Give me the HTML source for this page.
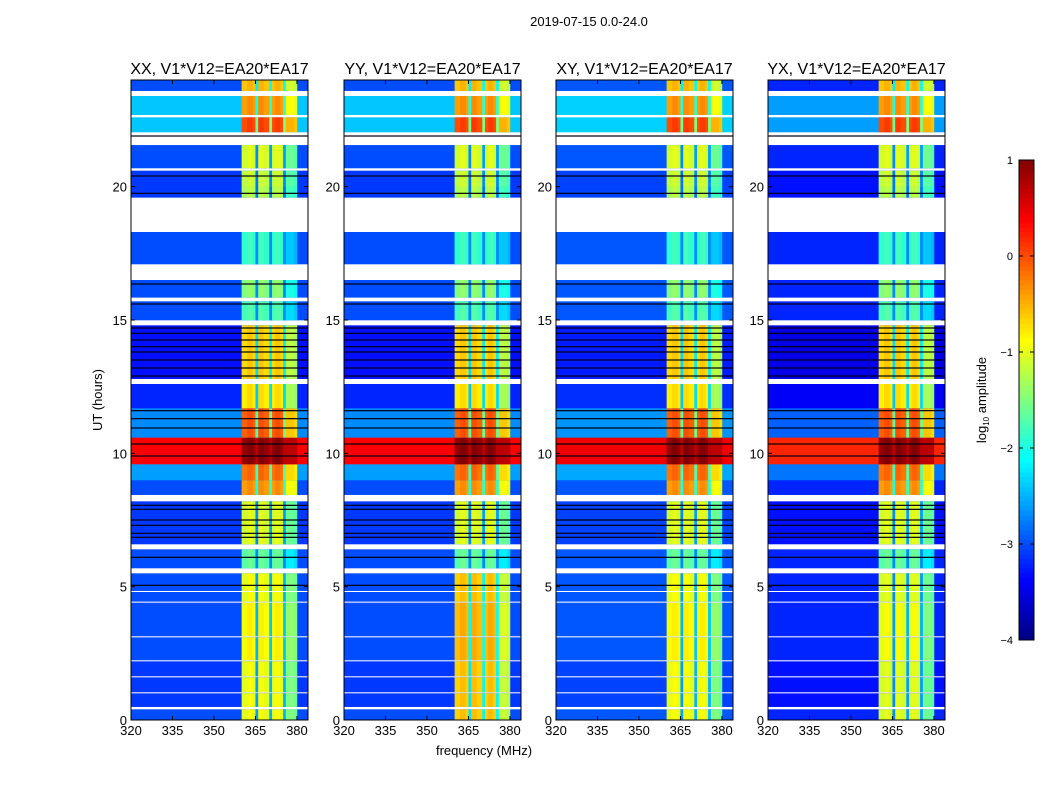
<!DOCTYPE html>
<html><head><meta charset="utf-8"><style>
html,body{margin:0;padding:0;background:#fff;}
svg{display:block;font-family:"Liberation Sans",sans-serif;}
</style></head><body>
<svg id="fig" width="1050" height="800">
<defs>
<linearGradient id="jet" x1="0" y1="1" x2="0" y2="0">
<stop offset="0" stop-color="#00007f"/><stop offset="0.11" stop-color="#0000ff"/><stop offset="0.125" stop-color="#0000ff"/>
<stop offset="0.34" stop-color="#0080ff"/><stop offset="0.375" stop-color="#00ffff" stop-opacity="1"/>
<stop offset="0.35" stop-color="#00e0ff"/><stop offset="0.5" stop-color="#7dff7a"/>
<stop offset="0.64" stop-color="#ffff00"/><stop offset="0.89" stop-color="#ff1a00"/><stop offset="1" stop-color="#7f0000"/>
</linearGradient>
</defs>
<text x="589" y="26" font-size="13" text-anchor="middle">2019-07-15 0.0-24.0</text>
<text x="484" y="755" font-size="13" text-anchor="middle">frequency (MHz)</text>
<text x="102" y="400" font-size="13" text-anchor="middle" transform="rotate(-90 102 400)">UT (hours)</text>
<g id="panels"></g>
<g id="cbar"></g>
</svg>
<script>
// ---- data ----
const panelTitles = ["XX, V1*V12=EA20*EA17","YY, V1*V12=EA20*EA17","XY, V1*V12=EA20*EA17","YX, V1*V12=EA20*EA17"];
const panelLeft = [131,344,556,768];
const xTicks = [320,335,350,365,380];
const yTicks = [0,5,10,15,20];
// time segments: start hour, end hour, background log amplitude, band log amplitude (null = flagged)
const segStart = [0,0.4,0.5,1.0,1.05,1.6,1.65,2.2,2.25,3.1,3.15,4.4,4.45,4.8,4.85,5.5,5.7,6.4,6.6,8.2,8.45,9.0,9.6,10.6,11.7,12.6,12.8,14.8,15.0,15.7,15.85,16.5,16.6,17.1,18.3,19.6,20.0,20.6,20.7,21.56,22.05,22.6,22.7,23.4,23.6];
const segEnd   = [0.4,0.5,1.0,1.05,1.6,1.65,2.2,2.25,3.1,3.15,4.4,4.45,4.8,4.85,5.5,5.7,6.4,6.6,8.2,8.45,9.0,9.6,10.6,11.7,12.6,12.8,14.8,15.0,15.7,15.85,16.5,16.6,17.1,18.3,19.6,20.0,20.6,20.7,21.56,22.05,22.6,22.7,23.4,23.6,24];
const segBg    = [-3.0,null,-3.1,null,-3.1,null,-3.1,null,-3.0,null,-3.0,null,-3.0,null,-3.0,null,-3.0,null,-3.1,null,-3.0,-2.6,0.4,-2.7,-3.2,null,-3.3,null,-3.0,null,-3.0,null,null,-3.0,null,-3.1,-3.1,null,-3.0,null,-2.4,null,-2.4,null,-3.0];
const segBand  = [-1.0,null,-1.0,null,-1.0,null,-1.0,null,-0.9,null,-0.9,null,-1.0,null,-1.0,null,-1.7,null,-1.1,null,-0.4,-0.2,0.9,-0.1,-0.8,null,-0.7,null,-1.8,null,-1.5,null,null,-1.9,null,-1.3,-1.2,null,-1.1,null,0.0,null,-0.4,null,-0.6];
// dark (zero) lines in hours
const blackLines = [5.05,6.1,6.85,7.0,7.3,7.5,7.9,8.05,9.9,10.35,10.95,11.3,11.6,12.9,13.2,13.5,13.8,14.0,14.25,14.5,14.7,15.6,16.35,19.75,20.4,21.9];
// frequency band columns (1 MHz wide) and their offsets
const bandFreq = [360,361,362,363,364,365,366,367,368,369,370,371,372,373,374,375,376,377,378,379];
const bandOff  = [0,0,0.1,0.1,0,-1.6,0.1,0.1,0,0,-1.5,0,0.1,0.1,0,-1.5,-0.5,-0.5,-0.5,-0.6];
// per panel band offset (YY brighter in low hours) and strong-RFI offsets
const panelBandOff = [0,0.35,0,-0.1];
const panelBgOff = [0,0,0.05,-0.2];
const cbTicks = [1,0,-1,-2,-3,-4];

// ---- scales ----
const W = 177, TOP = 80, BOT = 720, FMIN = 320, FMAX = 384;
function xs(f, p){ return panelLeft[p] + (f - FMIN) / (FMAX - FMIN) * W; }
function ys(h){ return BOT - h / 24 * (BOT - TOP); }
function jet(v){
  let t = (v + 4) / 5; t = Math.max(0, Math.min(1, t));
  const r = Math.max(0, Math.min(1, 1.5 - Math.abs(4*t - 3)));
  const g = Math.max(0, Math.min(1, 1.5 - Math.abs(4*t - 2)));
  const b = Math.max(0, Math.min(1, 1.5 - Math.abs(4*t - 1)));
  return `rgb(${Math.round(r*255)},${Math.round(g*255)},${Math.round(b*255)})`;
}
const NS = "http://www.w3.org/2000/svg";
function mk(tag, attrs, parent){ const e = document.createElementNS(NS, tag); for (const k in attrs) e.setAttribute(k, attrs[k]); parent.appendChild(e); return e; }

const panels = document.getElementById('panels');
for (let p = 0; p < 4; p++){
  const g = mk('g', {}, panels);
  
  
  const L = panelLeft[p];
  for (let s = 0; s < segStart.length; s++){
    if (segBg[s] === null) continue;
    const y0 = ys(segEnd[s]), y1 = ys(segStart[s]);
    const bg = mk('rect', {x: L, y: y0, width: W, height: y1 - y0 + 0.3, fill: jet(segBg[s] + panelBgOff[p])}, g);
    
    
    for (let c = 0; c < bandFreq.length; c++){
      const x0 = xs(bandFreq[c], p), x1 = xs(bandFreq[c] + 1, p);
      const boost = segStart[s] < 5.5 ? panelBandOff[p] : 0;
      const v = Math.max(segBg[s] + 0.3, segBand[s] + bandOff[c] + boost);
      const r = mk('rect', {x: x0, y: y0, width: x1 - x0 + 0.3, height: y1 - y0 + 0.3, fill: jet(v)}, g);
      
      
    }
  }
  for (const h of blackLines){
    const ln = mk('rect', {x: L, y: ys(h) - 0.6, width: W, height: 1.2, fill: '#000010'}, g);
    
    
  }
  const fr = mk('rect', {x: L, y: TOP, width: W, height: BOT - TOP, fill: 'none', stroke: '#000', 'stroke-width': 1}, g);
  
  
  const tt = mk('text', {x: L + W/2, y: 74, 'font-size': 16, 'text-anchor': 'middle'}, g);
  tt.textContent = panelTitles[p];
  
  
  for (const f of xTicks){
    const x = xs(f, p);
    mk('line', {x1: x, x2: x, y1: BOT, y2: BOT - 4, stroke: '#000'}, g);
    mk('line', {x1: x, x2: x, y1: TOP, y2: TOP + 4, stroke: '#000'}, g);
    const t = mk('text', {x: x, y: BOT + 15, 'font-size': 13, 'text-anchor': 'middle'}, g);
    t.textContent = f;
    
    
  }
  for (const h of yTicks){
    const y = ys(h);
    mk('line', {x1: L, x2: L + 4, y1: y, y2: y, stroke: '#000'}, g);
    mk('line', {x1: L + W, x2: L + W - 4, y1: y, y2: y, stroke: '#000'}, g);
    const t = mk('text', {x: L - 4, y: y + 5, 'font-size': 13, 'text-anchor': 'end'}, g);
    t.textContent = h;
    
    
  }
}
// colorbar
const cb = document.getElementById('cbar');
const CBT = 160, CBB = 640, CBX = 1019, CBW = 15;
for (let i = 0; i < 100; i++){
  const v = -4 + 5 * (i + 0.5) / 100;
  const y = CBB - (i + 1) * (CBB - CBT) / 100;
  mk('rect', {x: CBX, y: y, width: CBW, height: (CBB - CBT) / 100 + 0.5, fill: jet(v)}, cb);
}
mk('rect', {x: CBX, y: CBT, width: CBW, height: CBB - CBT, fill: 'none', stroke: '#000'}, cb);
for (const v of cbTicks){
  const y = CBB - (v + 4) / 5 * (CBB - CBT);
  mk('line', {x1: CBX, x2: CBX + 4, y1: y, y2: y, stroke: '#000'}, cb);
  mk('line', {x1: CBX + CBW, x2: CBX + CBW - 4, y1: y, y2: y, stroke: '#000'}, cb);
  const t = mk('text', {x: 1013, y: y + 4, 'font-size': 11, 'text-anchor': 'end'}, cb);
  t.textContent = v < 0 ? '\u2212' + (-v) : String(v);
  
  
}
const cl = mk('text', {x: 986, y: 400, 'font-size': 13, 'text-anchor': 'middle', transform: 'rotate(-90 986 400)'}, cb);
cl.innerHTML = 'log<tspan font-size="8" dy="3">10</tspan><tspan dy="-3"> amplitude</tspan>';


</script>
</body></html>
